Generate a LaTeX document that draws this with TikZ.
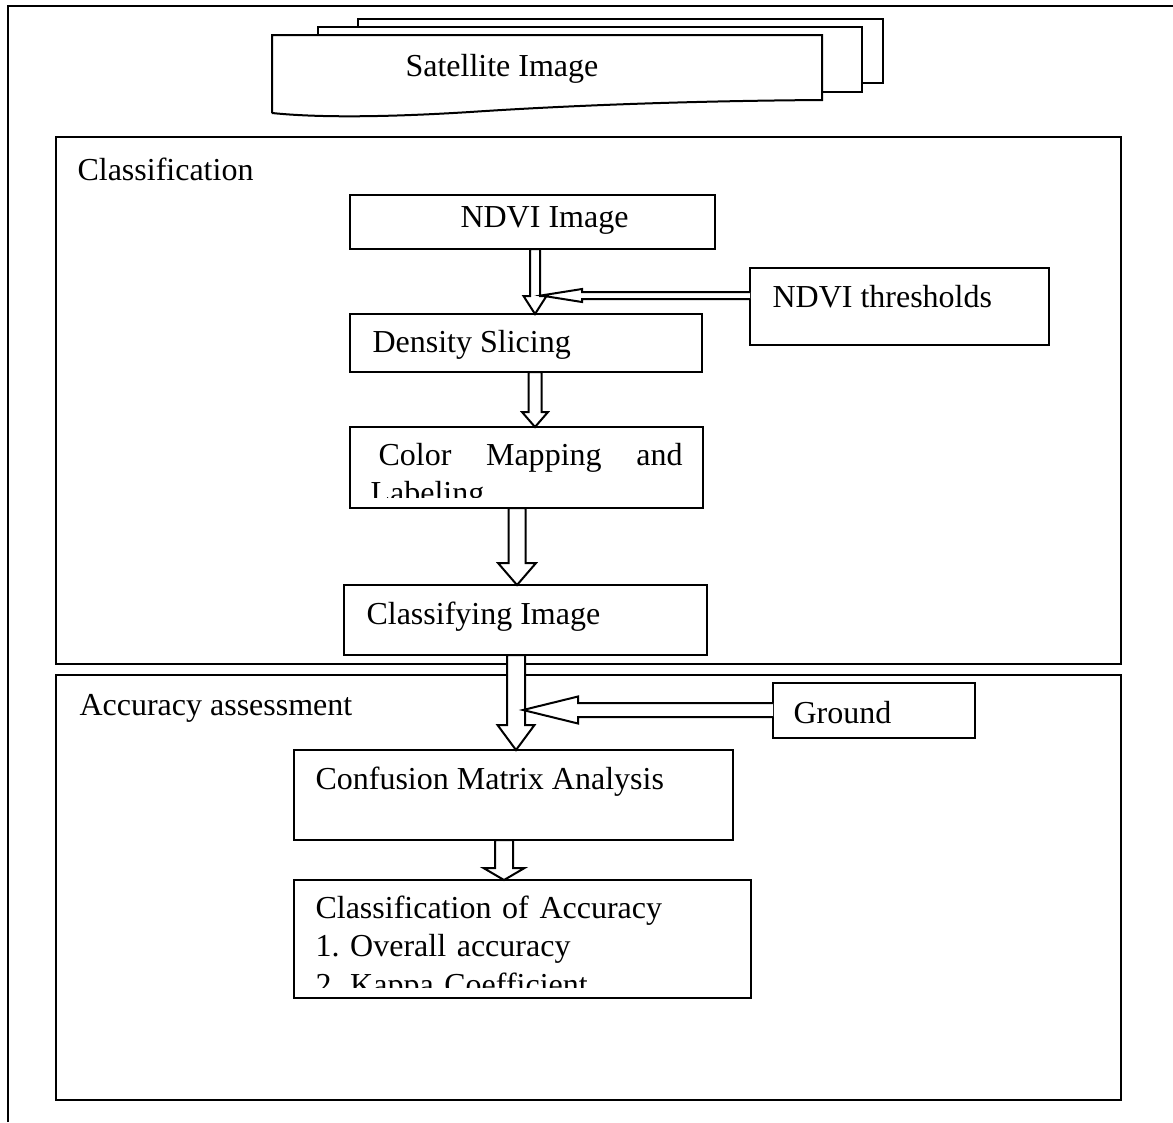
\documentclass[tikz,border=0pt]{standalone}
\usepackage{fontspec}
\setmainfont{Liberation Serif}
\usetikzlibrary{fit,calc}
\frenchspacing

\def\px{0.375pt}
% vertical block arrow: from, to, x, shaft half, head half, head length
\newcommand{\vblk}[6]{%
  \draw[blk] let \p1=(#1.south), \p2=(#2.north) in
    ({(#3-#4)*\px},\y1) -- ({(#3-#4)*\px},{\y2+#6*\px}) -- ({(#3-#5)*\px},{\y2+#6*\px})
    -- ({#3*\px},\y2) -- ({(#3+#5)*\px},{\y2+#6*\px}) -- ({(#3+#4)*\px},{\y2+#6*\px})
    -- ({(#3+#4)*\px},\y1) -- cycle;}
% horizontal block arrow: from, tip, shaft half, head half, head length
\newcommand{\hblk}[5]{%
  \draw[blk] let \p1=(#1.west), \p2=(#2) in
    (\x1,{\y2+#3*\px}) -- ({\x2+#5*\px},{\y2+#3*\px}) -- ({\x2+#5*\px},{\y2+#4*\px})
    -- (\x2,\y2) -- ({\x2+#5*\px},{\y2-#4*\px}) -- ({\x2+#5*\px},{\y2-#3*\px})
    -- (\x1,{\y2-#3*\px});}

\begin{document}
\begin{tikzpicture}[x=0.375pt,y=-0.375pt,line join=miter,
  box/.style={draw,line width=0.75pt,inner sep=0pt,outer sep=0pt},
  lbl/.style={inner sep=0pt,font=\fontsize{12pt}{14.6pt}\selectfont},
  blk/.style={draw,fill=white,line width=0.75pt}]
\useasboundingbox (0,0) rectangle (1173,1122);
\draw[line width=0.75pt] (8,1122) -- (8,6) -- (1173,6);

% satellite image
\draw[box,fill=white] (358,19) rectangle (883,83);
\draw[box,fill=white] (318,27) rectangle (862,92);
\draw[box,fill=white] (272,113) -- (272,35) -- (822,35) -- (822,100)
  .. controls (680,101) and (560,106) .. (470,112) .. controls (390,117) and (320,118) .. (272,113);
\node[lbl,anchor=base west] (sat) at (405,76) {Satellite Image};

% frames
\node[box,fit={(56,137) (1121,664)}] (classfr) {};
\node[lbl,anchor=base west] (classlbl) at (77,180) {Classification};
\node[box,fit={(56,675) (1121,1100)}] (accfr) {};
\node[lbl,anchor=base west] (acclbl) at (79,715) {Accuracy assessment};

% boxes
\node[box,fit={(350,195) (715,249)}] (ndvi) {};
\node[lbl,anchor=base west] at (460,227) {NDVI Image};
\node[box,fit={(750,268) (1049,345)}] (thr) {};
\node[lbl,anchor=base west] at (772,307) {NDVI thresholds};
\node[box,fit={(350,314) (702,372)}] (dens) {};
\node[lbl,anchor=base west] at (372,352) {Density Slicing};
\node[box,fit={(350,427) (703,508)}] (color) {};
\begin{scope}
\clip (350,427) rectangle (703,497);
\node[lbl,anchor=base west,text width=117pt,align=justify] (colortxt) at (370,465)
  {\hspace*{3pt}Color Mapping and\linebreak Labeling};
\end{scope}
\node[box,fit={(344,585) (707,655)}] (cimg) {};
\node[lbl,anchor=base west] at (366,624) {Classifying Image};
\node[box,fit={(773,683) (975,738)}] (ground) {};
\node[lbl,anchor=base west] at (793,723) {Ground};
\node[box,fit={(294,750) (733,840)}] (conf) {};
\node[lbl,anchor=base west] at (315,789) {Confusion Matrix Analysis};
\node[box,fit={(294,880) (751,998)}] (cacc) {};
\begin{scope}
\clip (294,880) rectangle (751,987);
\node[lbl,anchor=base west,text width=160pt,align=left] (cacctxt) at (315,918)
  {Classification of Accuracy\\1. Overall accuracy\\2. Kappa Coefficient};
\end{scope}

% arrows
\vblk{ndvi}{dens}{535}{5}{11.5}{18}
\coordinate (thrtip) at (541,295.5);
\hblk{thr}{thrtip}{3.5}{6.5}{41}
\vblk{dens}{color}{535}{6.5}{13}{15}
\vblk{color}{cimg}{517}{8.5}{19}{22}
\vblk{cimg}{conf}{516}{9}{18.5}{25}
\coordinate (gtip) at (523,710);
\hblk{ground}{gtip}{7}{13.5}{55}
\vblk{conf}{cacc}{504}{9}{20.5}{12}
\end{tikzpicture}
\end{document}
